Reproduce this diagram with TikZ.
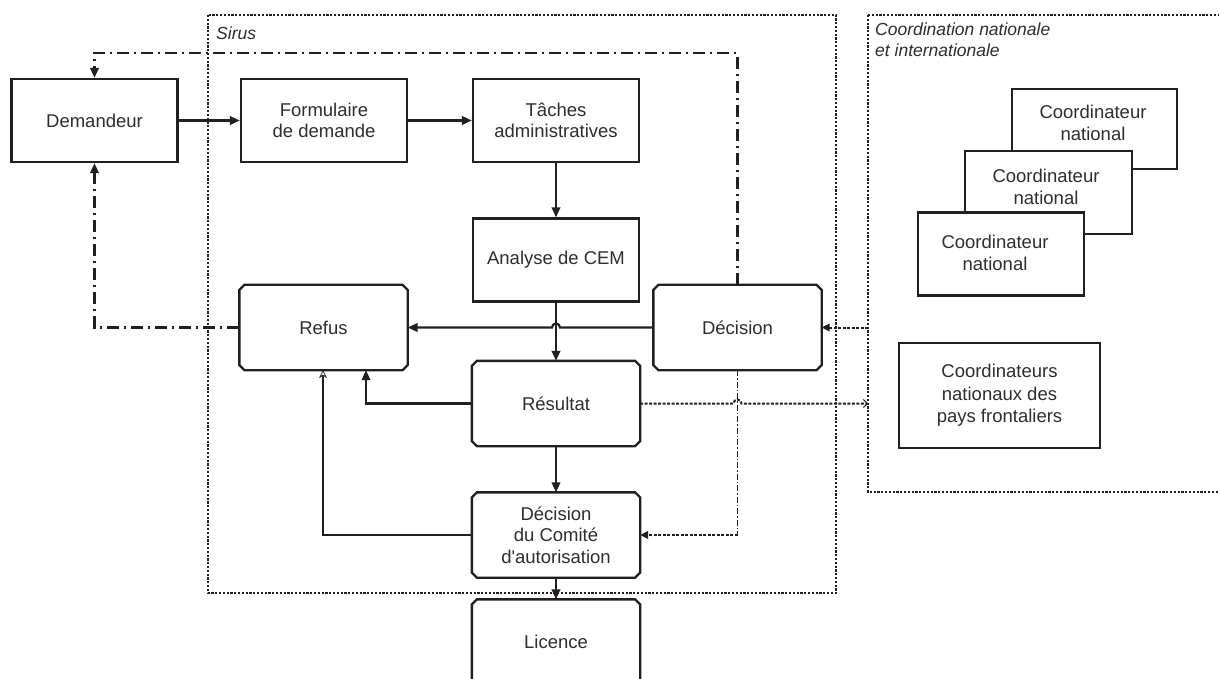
\documentclass[tikz,border=0pt]{standalone}
\usepackage{fontspec}
\setmainfont{Liberation Sans}
\usetikzlibrary{arrows.meta}
\definecolor{ink}{HTML}{231F20}
\definecolor{txt}{HTML}{2E2E2E}
\newcommand\chambox[1]{\draw[draw=ink,line width=2.3pt,line join=miter]
  ([xshift=5pt]#1.north west) -- ([xshift=-5pt]#1.north east) -- ([yshift=-5pt]#1.north east)
  -- ([yshift=5pt]#1.south east) -- ([xshift=-5pt]#1.south east) -- ([xshift=5pt]#1.south west)
  -- ([yshift=5pt]#1.south west) -- ([yshift=-5pt]#1.north west) -- cycle;}
\tikzset{
  box/.style={draw=ink, line width=2.3pt, rectangle, minimum width=166pt, minimum height=83pt,
    inner sep=0pt, align=center, font=\fontsize{18.5}{21.5}\selectfont, text=txt},
  cbox/.style={box, draw=none},
  cobox/.style={draw=ink, line width=2.6pt, fill=white, rectangle, minimum width=166pt, minimum height=83pt, inner sep=0pt},
  ctext/.style={align=center, inner sep=0pt, font=\fontsize{18.5}{21.5}\selectfont, text=txt},
  lab/.style={inner sep=0pt, font=\itshape\fontsize{17.5}{21}\selectfont, text=txt},
  dotbox/.style={draw=ink, line width=2.4pt, dash pattern=on 2.2pt off 1.6pt},
  arr/.style={draw=ink, line width=2.2pt, -{Triangle[length=10pt,width=8.5pt]}},
  arrthin/.style={draw=ink, line width=2.2pt, -{Stealth[length=8pt,width=8pt,open,line width=0.7pt]}},
  dashdot/.style={draw=ink, line width=2.2pt, dash pattern=on 12pt off 5pt on 2pt off 5pt},
  dotline/.style={draw=ink, line width=2pt, dash pattern=on 3pt off 1.5pt},
  ddthin/.style={draw=ink, line width=1.5pt, dash pattern=on 6pt off 2pt on 1.5pt off 2pt},
  smalltip/.style={-{Triangle[length=8pt,width=7.5pt]}},
  barbtip/.style={-{Straight Barb[length=4pt,width=8pt,line width=0.9pt]}}
}
\begin{document}
\begin{tikzpicture}[x=1pt,y=-1pt]
\useasboundingbox (0,0) rectangle (1219,679);
\clip (0,0) rectangle (1219,679);
\fill[white] (0,0) rectangle (1219,679);

% dotted frames
\draw[dotbox] (208,15) rectangle (836,593);
\draw[dotbox] (868,15) rectangle (1230,492);
\node[lab, anchor=west] (sirus) at (216,33) {Sirus};
\node[lab, anchor=north west, align=left] (coordlab) at (875,23) {Coordination nationale\\et internationale};

% main boxes
\node[box] (dem) at (94.5,120.5) {Demandeur};
\node[box] (form) at (324,120.5) {Formulaire\\de demande};
\node[box] (tach) at (556,120.5) {Tâches\\administratives};
\node[box] (cem) at (556,260) {Analyse de CEM};
\node[cbox] (refus) at (323.5,327.5) {Refus};
\node[cbox] (dec) at (737.5,327.5) {Décision};
\node[cbox] (res) at (556,403.5) {Résultat};
\node[cbox] (com) at (556,535) {Décision\\du Comité\\d\textquotesingle autorisation};
\node[cbox] (lic) at (556,642) {Licence};
\chambox{refus}
\chambox{dec}
\chambox{res}
\chambox{com}
\chambox{lic}

% coordinators
\node[cobox, minimum width=165pt, minimum height=80pt] (c1) at (1094.5,129) {};
\node[ctext] (c1t) at (1093,123) {Coordinateur\\national};
\node[cobox, minimum width=167pt] (c2) at (1048.5,192.5) {};
\node[ctext] (c2t) at (1046,187) {Coordinateur\\national};
\node[cobox] (c3) at (1001,254) {};
\node[ctext] (c3t) at (995,253) {Coordinateur\\national};
\node[box, line width=2.6pt, minimum width=201pt, minimum height=105pt, font=\fontsize{18.5}{22.5}\selectfont] (front) at (999.5,395.5) {Coordinateurs\\nationaux des\\pays frontaliers};

\coordinate (ddtop) at (737.5,53);
\coordinate (cl1) at (868,327.5);
\coordinate (cl2) at (868,403.5);

% solid connectors
\draw[arr] (dem.east) -- (form.west);
\draw[arr] (form.east) -- (tach.west);
\draw[arr] (tach.south) -- (cem.north);
\draw[arr] (cem.south) -- (res.north);
\draw[arr] (dec.west) -- ([xshift=4pt]cem.south |- dec.west) arc[start angle=0,end angle=180,radius=4pt] -- (refus.east);
\draw[arr] (res.west) -| ([xshift=42.5pt]refus.south);
\draw[arrthin] (com.west) -| ([xshift=-0.5pt]refus.south);
\draw[arr] (res.south) -- (com.north);
\draw[arr] (com.south) -- (lic.north);

% dash-dot connectors
\draw[dashdot] (dec.north) -- (ddtop) -| ([yshift=10pt]dem.north);
\draw[arr] ([yshift=10pt]dem.north) -- (dem.north);
\draw[dashdot] (refus.west) -| ([yshift=-10pt]dem.south);
\draw[arr] ([yshift=-10pt]dem.south) -- (dem.south);

% dotted connectors
\draw[dotline, smalltip] (cl1) -- (dec.east);
\draw[dotline, barbtip] (res.east) -- ([xshift=-4pt]dec.south |- res.east) arc[start angle=180,end angle=0,radius=4pt] -- (cl2);
\draw[ddthin] (dec.south) -- (dec.south |- com.east);
\draw[dotline, smalltip] (dec.south |- com.east) -- (com.east);
\end{tikzpicture}
\end{document}
